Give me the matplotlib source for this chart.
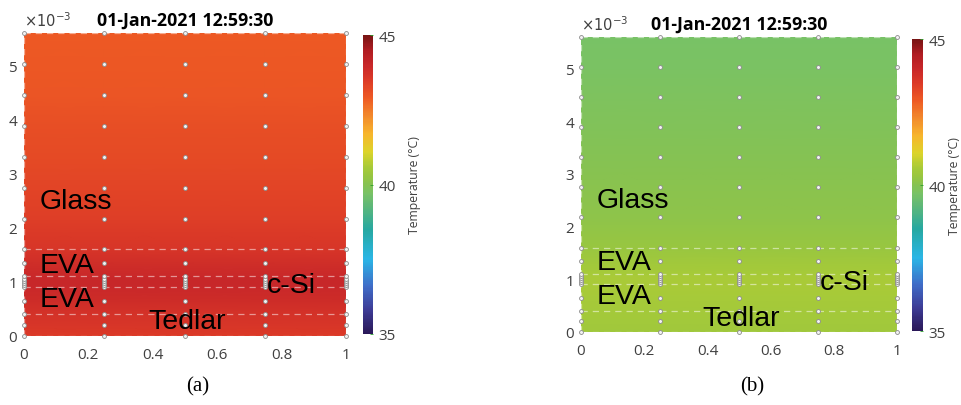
import numpy as np
import matplotlib
matplotlib.use("Agg")
import matplotlib.pyplot as plt
from matplotlib.colors import LinearSegmentedColormap, Normalize
from matplotlib.cm import ScalarMappable

# Вузли сітки
x_nodes = [0.0, 0.25, 0.5, 0.75, 1.0]
y_nodes_mm = [0.0, 0.2, 0.4, 0.65, 0.9, 0.94, 0.98, 1.02, 1.06, 1.1, 1.35, 1.6,
              2.171, 2.743, 3.314, 3.886, 4.457, 5.029, 5.6]

# Профілі температури (°C) по вузлах y
temp_a = [43.5, 43.6, 43.7, 43.85, 43.95, 44.0, 44.0, 44.0, 44.0, 43.95, 43.8, 43.6,
          43.4, 43.3, 43.2, 43.1, 43.0, 42.95, 42.9]
temp_b = [40.45, 40.5, 40.52, 40.55, 40.6, 40.6, 40.6, 40.6, 40.6, 40.58, 40.45, 40.3,
          40.15, 40.05, 39.98, 39.9, 39.82, 39.75, 39.7]

# Межі шарів (мм)
layer_bounds = [0.4, 0.9, 1.1, 1.6]
layer_labels = [("Glass", 0.05, 2.5), ("EVA", 0.05, 1.32), ("EVA", 0.05, 0.68),
                ("c-Si", 0.755, 0.95), ("Tedlar", 0.385, 0.27)]

title_text = "01-Jan-2021 12:59:30"
captions = ["(a)", "(b)"]
clim = (35, 45)

# Палітра, схожа на оригінал
cmap_vals = [35.0, 35.8, 36.6, 37.5, 38.5, 39.3, 39.7, 40.0, 40.3, 40.6, 41.1, 41.7,
             42.3, 42.9, 43.5, 44.0, 44.5, 45.0]
cmap_cols = ["#2a1858", "#3d3c96", "#3f6dc8", "#2ab6e6", "#27a8a0", "#5fb878", "#78c266",
             "#86c252", "#98c640", "#a8ca38", "#dcd42a", "#f7b52c", "#f28a2c", "#ee5a24",
             "#dc3a27", "#c82729", "#b01c22", "#781414"]
cmap = LinearSegmentedColormap.from_list(
    "temp", [((v - clim[0]) / (clim[1] - clim[0]), c) for v, c in zip(cmap_vals, cmap_cols)])
norm = Normalize(*clim)

fig = plt.figure(figsize=(9.62, 4.06), dpi=100)

ax_pos = [[0.0249, 0.170, 0.3347, 0.746], [0.604, 0.180, 0.3285, 0.727]]
cb_pos = [[0.3770, 0.175, 0.0106, 0.736], [0.9478, 0.182, 0.0114, 0.719]]
cb_labelpad = [9, 1.5]
cap_x = [0.205, 0.782]

tick_font = "Open Sans"
tick_col = "#404040"

for i, temps in enumerate([temp_a, temp_b]):
    ax = fig.add_axes(ax_pos[i])
    y_m = np.array(y_nodes_mm) * 1e-3
    X, Y = np.meshgrid(x_nodes, y_m)
    T = np.tile(np.array(temps)[:, None], (1, len(x_nodes)))
    ax.pcolormesh(X, Y, T, cmap=cmap, norm=norm, shading="gouraud")

    # межі шарів та контур
    for yb in layer_bounds + [0.0, 5.6]:
        ax.plot([0, 1], [yb * 1e-3, yb * 1e-3], ls=(0, (5, 4)), color="white", alpha=0.5, lw=0.9)
    for xb in [0, 1]:
        ax.plot([xb, xb], [0, 5.6e-3], ls=(0, (5, 4)), color="white", alpha=0.5, lw=0.9)

    # вузли сітки
    ax.plot(X.ravel(), Y.ravel(), "o", ms=2.8, mfc="#f2f2f2", mec="#8a8a8a", mew=0.6,
            clip_on=False)

    for txt, lx, ly in layer_labels:
        ax.text(lx, ly * 1e-3, txt, fontsize=20.5, family="Liberation Sans", color="black",
                va="center", ha="left")

    ax.set_xlim(0, 1)
    ax.set_ylim(0, 5.6e-3)
    ax.set_xticks([0, 0.2, 0.4, 0.6, 0.8, 1.0])
    ax.set_xticklabels(["0", "0.2", "0.4", "0.6", "0.8", "1"])
    ax.set_yticks([k * 1e-3 for k in range(6)])
    ax.set_yticklabels([str(k) for k in range(6)])
    ax.tick_params(length=0, labelsize=11, labelcolor=tick_col)
    ax.tick_params(axis="x", pad=8)
    ax.tick_params(axis="y", pad=5)
    for lab in ax.get_xticklabels() + ax.get_yticklabels():
        lab.set_family(tick_font)
    for s in ax.spines.values():
        s.set_visible(False)

    ax.set_title(title_text, fontsize=12.8, fontweight="bold", family=tick_font, pad=6)
    ax.text(0.0, 1.012, r"$\times 10^{-3}$", transform=ax.transAxes, fontsize=10.5,
            color=tick_col, ha="left", va="bottom")

    cax = fig.add_axes(cb_pos[i])
    cb = fig.colorbar(ScalarMappable(norm=norm, cmap=cmap), cax=cax)
    cb.set_ticks([35, 40, 45])
    cb.outline.set_visible(False)
    cax.tick_params(direction="in", length=2, width=0.6, color="#2ca02c", labelsize=11,
                    labelcolor=tick_col, pad=4)
    for lab in cax.get_yticklabels():
        lab.set_family(tick_font)
    cb.set_label("Temperature (°C)", fontsize=8.8, family=tick_font, color=tick_col,
                 labelpad=cb_labelpad[i])

    fig.text(cap_x[i], 0.047, captions[i], fontsize=15, family="Liberation Serif",
             ha="center", va="center")

plt.savefig("out.png", dpi=100)
plt.close()
